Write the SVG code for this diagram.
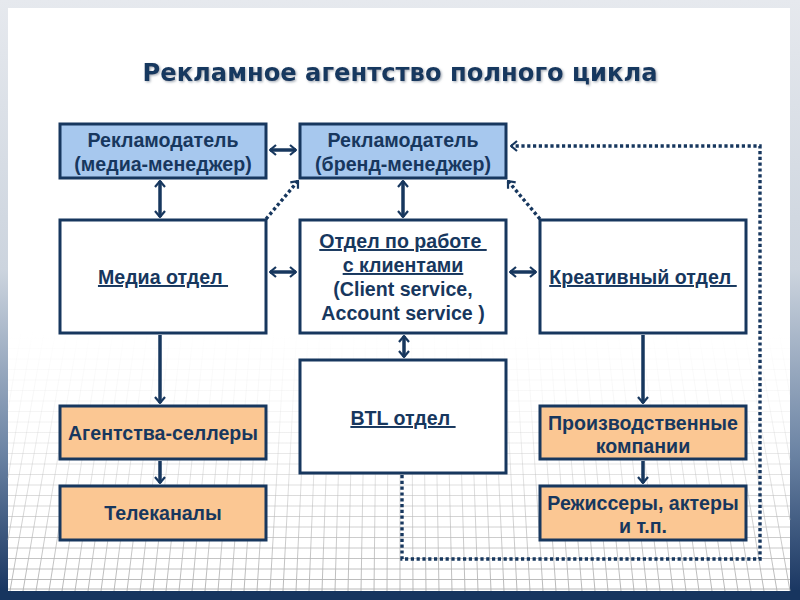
<svg xmlns="http://www.w3.org/2000/svg" width="800" height="600" viewBox="0 0 800 600">
<style>
.node rect{stroke:#17375e;stroke-width:3}
.blue rect{fill:#a7c8ee}
.white rect{fill:#ffffff}
.orange rect{fill:#fbc793}
.node text{font-family:"Liberation Sans",Arial,sans-serif;font-weight:bold;font-size:19.6px;fill:#17375e;text-anchor:middle;white-space:pre}
.u{text-decoration:underline}
.conn{fill:none;stroke:#17375e;stroke-width:3.5}
.dot{fill:none;stroke:#17375e;stroke-width:3.4;stroke-dasharray:3.2 2.6}
</style>
<defs>
<linearGradient id="frame" x1="0" y1="0" x2="0" y2="1">
<stop offset="0" stop-color="#e6e9ee"/>
<stop offset="0.45" stop-color="#ccd4de"/>
<stop offset="0.75" stop-color="#6d85a5"/>
<stop offset="1" stop-color="#15325e"/>
</linearGradient>
<linearGradient id="gridg" gradientUnits="userSpaceOnUse" x1="0" y1="330" x2="0" y2="590">
<stop offset="0" stop-color="#c4c4c4" stop-opacity="0"/>
<stop offset="0.3" stop-color="#c4c4c4" stop-opacity="0.15"/>
<stop offset="0.65" stop-color="#bcbcbc" stop-opacity="0.55"/>
<stop offset="1" stop-color="#b4b4b4" stop-opacity="0.95"/>
</linearGradient>
<filter id="sh" x="-5%" y="-20%" width="110%" height="150%">
<feDropShadow dx="1.2" dy="1.2" stdDeviation="0.8" flood-color="#6b7686" flood-opacity="0.6"/>
</filter>
<marker id="ah" viewBox="0 0 8 12" refX="7" refY="6" markerWidth="8" markerHeight="12" markerUnits="userSpaceOnUse" orient="auto-start-reverse">
<path d="M1,1 L7,6 L1,11" fill="none" stroke="#17375e" stroke-width="2.2"/>
</marker>
</defs>

<g id="background">
<rect x="0" y="0" width="800" height="600" fill="url(#frame)"/>
<rect x="0" y="590" width="800" height="10" fill="#17355f"/>
<rect x="8" y="8" width="782" height="583" fill="#ffffff"/>
<g stroke="url(#gridg)" stroke-width="1" fill="none">
<path d="M400,330V591 M411.5,330L413,591 M423,330L426,591 M434.4,330L439,591 M445.9,330L452,591 M457.4,330L465,591 M468.8,330L478,591 M480.3,330L491,591 M491.8,330L504,591 M503.3,330L517,591 M514.7,330L530,591 M526.2,330L543,591 M537.7,330L556,591 M549.2,330L569,591 M560.6,330L582,591 M572.1,330L595,591 M583.6,330L608,591 M595.1,330L621,591 M606.5,330L634,591 M618,330L647,591 M629.5,330L660,591 M641,330L673,591 M652.4,330L686,591 M663.9,330L699,591 M675.4,330L712,591 M686.9,330L725,591 M698.3,330L738,591 M709.8,330L751,591 M721.3,330L764,591 M732.8,330L777,591 M744.2,330L790,591 M755.7,330L790,520 M767.2,330L790,460 M778.6,330L790,395"/>
<path d="M388.5,330L387,591 M377,330L374,591 M365.6,330L361,591 M354.1,330L348,591 M342.6,330L335,591 M331.2,330L322,591 M319.7,330L309,591 M308.2,330L296,591 M296.7,330L283,591 M285.3,330L270,591 M273.8,330L257,591 M262.3,330L244,591 M250.8,330L231,591 M239.4,330L218,591 M227.9,330L205,591 M216.4,330L192,591 M204.9,330L179,591 M193.5,330L166,591 M182,330L153,591 M170.5,330L140,591 M159,330L127,591 M147.6,330L114,591 M136.1,330L101,591 M124.6,330L88,591 M113.2,330L75,591 M101.7,330L62,591 M90.2,330L49,591 M78.7,330L36,591 M67.3,330L23,591 M55.8,330L10,591 M44.3,330L8,540 M32.8,330L8,478 M21.4,330L8,410"/>
<path d="M8,338H790 M8,348.5H790 M8,359H790 M8,369.5H790 M8,380H790 M8,390.5H790 M8,401H790 M8,411.5H790 M8,422H790 M8,432.5H790 M8,443H790 M8,453.5H790 M8,464H790 M8,474.5H790 M8,485H790 M8,495.5H790 M8,506H790 M8,516.5H790 M8,527H790 M8,537.5H790 M8,548H790 M8,558.5H790 M8,569H790 M8,579.5H790 M8,589H790"/>
</g>
</g>

<g id="title">
<text x="400" y="81" text-anchor="middle" font-family="'DejaVu Sans Condensed','DejaVu Sans',sans-serif" font-weight="bold" font-size="25" fill="#17375e" textLength="515" lengthAdjust="spacingAndGlyphs" filter="url(#sh)">Рекламное агентство полного цикла</text>
</g>

<g id="connectors">
<line class="conn" x1="270" y1="150" x2="296" y2="150" marker-start="url(#ah)" marker-end="url(#ah)"/>
<line class="conn" x1="160" y1="181" x2="160" y2="217" marker-start="url(#ah)" marker-end="url(#ah)"/>
<line class="conn" x1="403" y1="181" x2="403" y2="217" marker-start="url(#ah)" marker-end="url(#ah)"/>
<line class="conn" x1="270" y1="272" x2="296" y2="272" marker-start="url(#ah)" marker-end="url(#ah)"/>
<line class="conn" x1="510" y1="272" x2="536" y2="272" marker-start="url(#ah)" marker-end="url(#ah)"/>
<line class="conn" x1="404" y1="336" x2="404" y2="357" marker-start="url(#ah)" marker-end="url(#ah)"/>
<line class="conn" x1="160" y1="335" x2="160" y2="403" marker-end="url(#ah)"/>
<line class="conn" x1="160" y1="461" x2="160" y2="483" marker-end="url(#ah)"/>
<line class="conn" x1="643" y1="335" x2="643" y2="403" marker-end="url(#ah)"/>
<line class="conn" x1="643" y1="461" x2="643" y2="483" marker-end="url(#ah)"/>
<line class="dot" x1="266" y1="219" x2="298" y2="181" marker-end="url(#ah)"/>
<line class="dot" x1="540" y1="219" x2="508" y2="181" marker-end="url(#ah)"/>
<path class="dot" d="M402,475 V559 H760 V146 H511" marker-end="url(#ah)"/>
</g>

<g id="node-media-manager" class="node blue">
<rect x="60" y="124" width="206" height="54"/>
<text x="163" y="147">Рекламодатель</text>
<text x="163" y="171">(медиа-менеджер)</text>
</g>
<g id="node-brand-manager" class="node blue">
<rect x="300" y="124" width="206" height="54"/>
<text x="403" y="147">Рекламодатель</text>
<text x="403" y="171">(бренд-менеджер)</text>
</g>
<g id="node-media-dept" class="node white">
<rect x="60" y="220" width="206" height="113"/>
<text x="163" y="284" class="u">Медиа отдел </text>
</g>
<g id="node-client-service" class="node white">
<rect x="300" y="220" width="206" height="113"/>
<text x="403" y="248" class="u">Отдел по работе </text>
<text x="403" y="272" class="u">с клиентами</text>
<text x="403" y="296">(Client service,</text>
<text x="403" y="320">Account service )</text>
</g>
<g id="node-creative" class="node white">
<rect x="540" y="220" width="206" height="113"/>
<text x="643" y="284" class="u">Креативный отдел </text>
</g>
<g id="node-sellers" class="node orange">
<rect x="60" y="406" width="206" height="53"/>
<text x="163" y="440">Агентства-селлеры</text>
</g>
<g id="node-btl" class="node white">
<rect x="300" y="360" width="206" height="113"/>
<text x="403" y="425" class="u">BTL отдел </text>
</g>
<g id="node-production" class="node orange">
<rect x="540" y="406" width="206" height="53"/>
<text x="643" y="430">Производственные</text>
<text x="643" y="453">компании</text>
</g>
<g id="node-tv" class="node orange">
<rect x="60" y="486" width="206" height="54"/>
<text x="163" y="520">Телеканалы</text>
</g>
<g id="node-directors" class="node orange">
<rect x="540" y="486" width="206" height="54"/>
<text x="643" y="510">Режиссеры, актеры</text>
<text x="643" y="533">и т.п.</text>
</g>
</svg>
